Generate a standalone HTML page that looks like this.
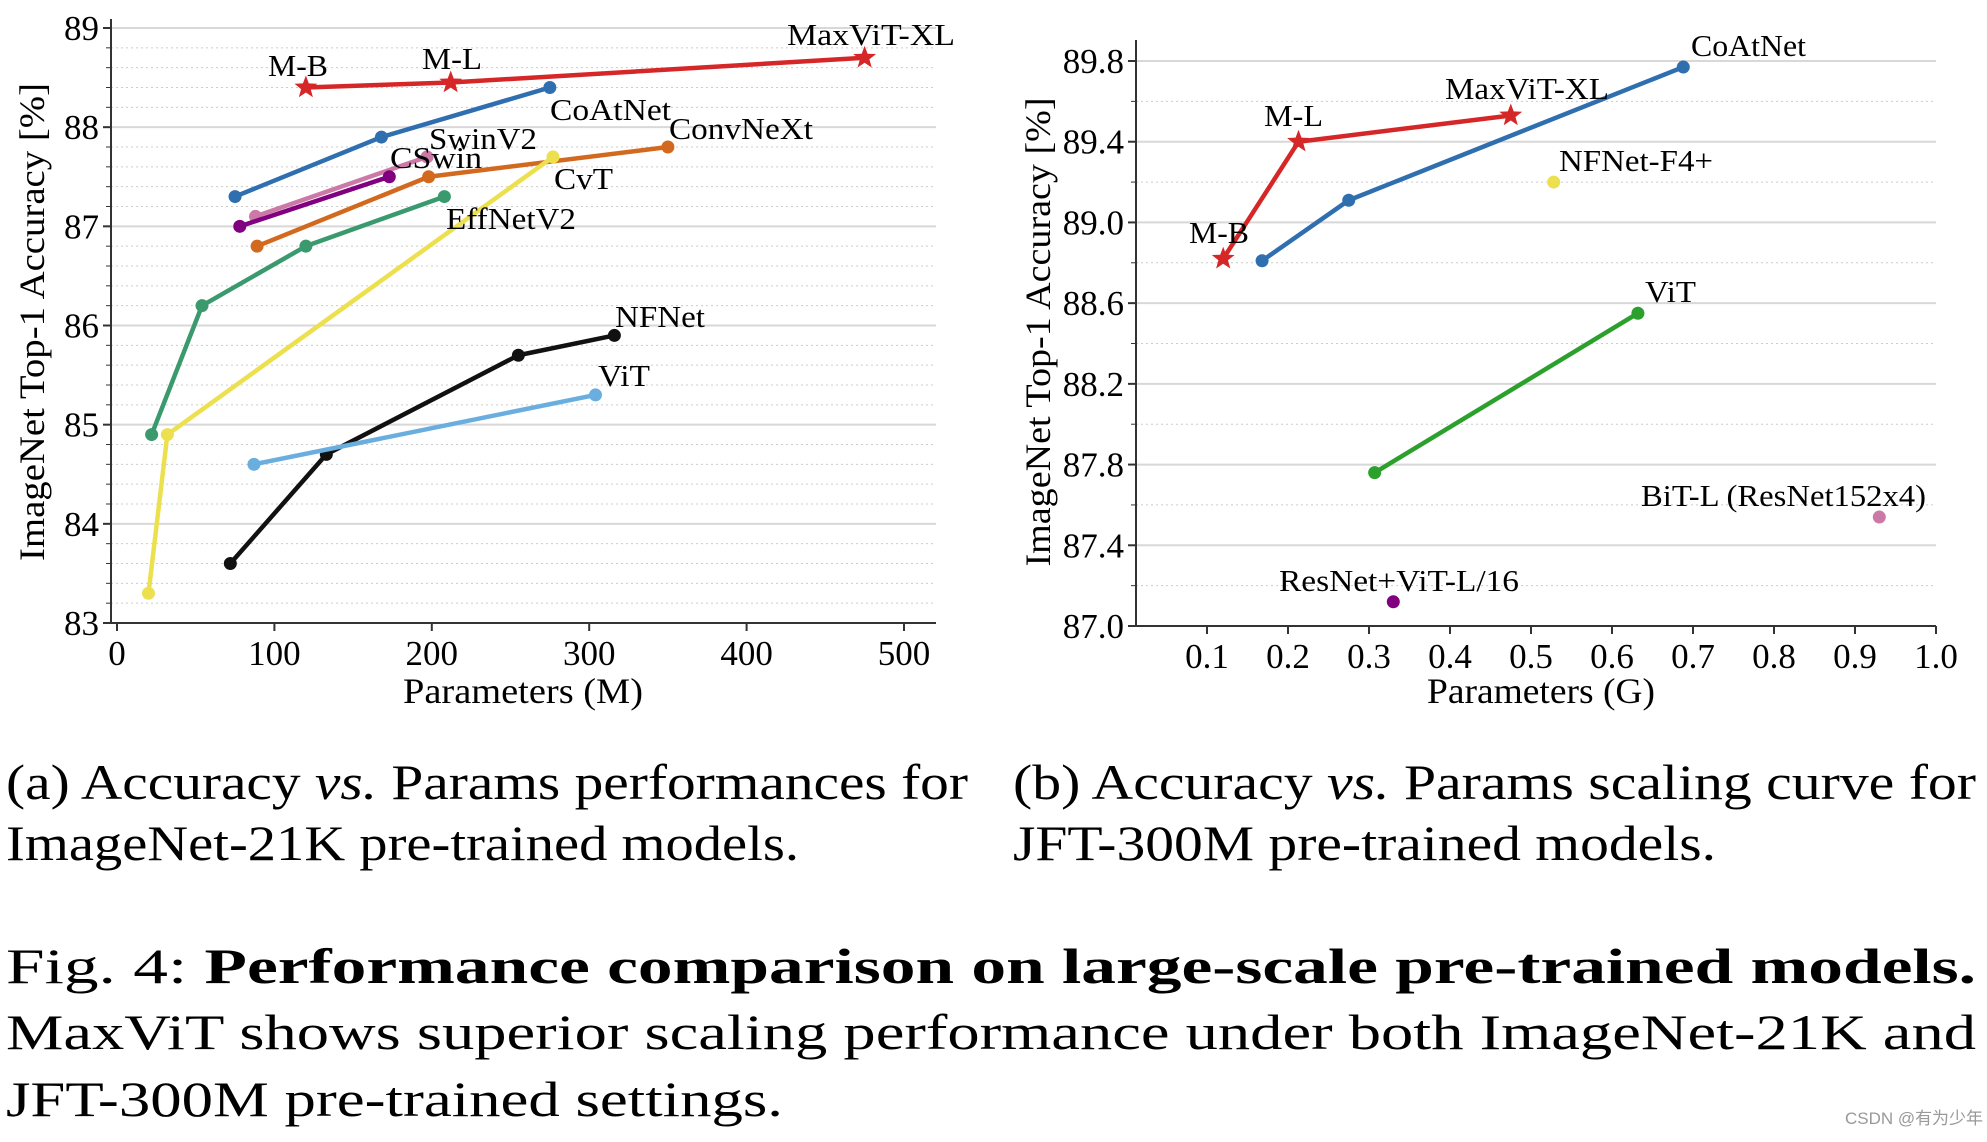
<!DOCTYPE html>
<html><head><meta charset="utf-8"><style>
html,body{margin:0;padding:0;background:#fff;}
svg{display:block;font-family:"Liberation Serif",serif;}
</style></head><body>
<svg id="fig" width="1987" height="1142" viewBox="0 0 1987 1142" xmlns="http://www.w3.org/2000/svg" font-family="Liberation Serif, serif">
<g id="chartA"></g>
<g id="chartB"></g>
<g font-size="50" fill="#000">
<text x="6" y="799" textLength="962" lengthAdjust="spacingAndGlyphs">(a) Accuracy <tspan font-style="italic">vs.</tspan> Params performances for</text>
<text x="6" y="860" textLength="793" lengthAdjust="spacingAndGlyphs">ImageNet-21K pre-trained models.</text>
<text x="1013" y="799" textLength="963" lengthAdjust="spacingAndGlyphs">(b) Accuracy <tspan font-style="italic">vs.</tspan> Params scaling curve for</text>
<text x="1013" y="860" textLength="703" lengthAdjust="spacingAndGlyphs">JFT-300M pre-trained models.</text>
<text x="6" y="983" textLength="1970" lengthAdjust="spacingAndGlyphs">Fig. 4:  <tspan font-weight="bold">Performance  comparison  on  large-scale  pre-trained  models.</tspan></text>
<text x="6" y="1049" textLength="1970" lengthAdjust="spacingAndGlyphs">MaxViT  shows  superior  scaling  performance  under  both  ImageNet-21K  and</text>
<text x="6" y="1116" textLength="777" lengthAdjust="spacingAndGlyphs">JFT-300M pre-trained settings.</text>
</g>
<text x="1845" y="1124" font-size="17" fill="#999" textLength="138" lengthAdjust="spacingAndGlyphs" font-family="Liberation Sans, Noto Sans CJK SC, sans-serif">CSDN @有为少年</text>
</svg>
<script>
// ---- Chart A data (ImageNet-21K) ----
const aXTicks = [0,100,200,300,400,500];
const aYTicks = [83,84,85,86,87,88,89];
const aNames = ["MaxViT","CoAtNet","SwinV2","CSwin","ConvNeXt","EffNetV2","CvT","NFNet","ViT"];
const aColors = ["#d62728","#2f6fb0","#cc79a7","#800080","#d2691e","#3a9a6e","#ede04e","#111111","#6aaee0"];
const aParams = [[120,212,475],[75,168,275],[88,197],[78,173],[89,198,350],[22,54,120,208],[20,32,277],[72,133,255,316],[87,304]];
const aAcc = [[88.4,88.45,88.7],[87.3,87.9,88.4],[87.1,87.7],[87.0,87.5],[86.8,87.5,87.8],[84.9,86.2,86.8,87.3],[83.3,84.9,87.7],[83.6,84.7,85.7,85.9],[84.6,85.3]];
const aLabels = [["M-B",268,76,60],["M-L",422,69,60],["MaxViT-XL",787,45,168],["CoAtNet",550,120,121],["ConvNeXt",669,139,144],["SwinV2",429,149,108],["CSwin",390,168,92],["CvT",554,189,59],["EffNetV2",446,229,130],["NFNet",615,327,90],["ViT",598,386,52]];
// ---- Chart B data (JFT-300M) ----
const bXTicks = [0.1,0.2,0.3,0.4,0.5,0.6,0.7,0.8,0.9,1.0];
const bYTicks = [87.0,87.4,87.8,88.2,88.6,89.0,89.4,89.8];
const bNames = ["MaxViT","CoAtNet","NFNet-F4+","ViT","BiT-L","ResNet+ViT"];
const bColors = ["#d62728","#2f6fb0","#ede04e","#2ca02c","#cc79a7","#800080"];
const bParams = [[0.12,0.213,0.475],[0.168,0.275,0.688],[0.528],[0.307,0.632],[0.93],[0.33]];
const bAcc = [[88.82,89.4,89.53],[88.81,89.11,89.77],[89.2],[87.76,88.55],[87.54],[87.12]];
const bLabels = [["CoAtNet",1691,56,115],["MaxViT-XL",1445,99,164],["M-L",1264,126,59],["NFNet-F4+",1559,171,154],["M-B",1189,243,60],["ViT",1645,302,51],["BiT-L (ResNet152x4)",1641,506,285],["ResNet+ViT-L/16",1279,591,240]];

const NS="http://www.w3.org/2000/svg";
function mk(p,t,a){const e=document.createElementNS(NS,t);for(const k in a)e.setAttribute(k,a[k]);p.appendChild(e);return e;}
function star(cx,cy,r){let s="";for(let i=0;i<10;i++){const rr=i%2?r*0.42:r;const a=-Math.PI/2+i*Math.PI/5;s+=(i?"L":"M")+(cx+rr*Math.cos(a)).toFixed(1)+","+(cy+rr*Math.sin(a)).toFixed(1);}return s+"Z";}

function draw(g,cfg){
  const xs=v=>cfg.x0+(v-cfg.xmin)*(cfg.x1-cfg.x0)/(cfg.xmax-cfg.xmin);
  const ys=v=>cfg.y0+(v-cfg.ymin)*(cfg.y1-cfg.y0)/(cfg.ymax-cfg.ymin);
  for(let v=cfg.ymin;v<=cfg.ymax+1e-9;v+=cfg.minor){
    const y=ys(v);
    const l=mk(g,"line",{x1:cfg.spL,x2:cfg.spR,y1:y,y2:y,stroke:"#ccc","stroke-width":1,"stroke-dasharray":"2,3"});
    
    
    mk(g,"line",{x1:cfg.spL-5,x2:cfg.spL,y1:y,y2:y,stroke:"#333","stroke-width":1});
  }
  cfg.yt.forEach(v=>{
    const y=ys(v);
    const l=mk(g,"line",{x1:cfg.spL,x2:cfg.spR,y1:y,y2:y,stroke:"#d8d8d8","stroke-width":2});
    
    
    mk(g,"line",{x1:cfg.spL-8,x2:cfg.spL,y1:y,y2:y,stroke:"#333","stroke-width":2});
    const t=mk(g,"text",{x:cfg.spL-12,y:y+12,"font-size":35,"text-anchor":"end"});
    t.textContent=v.toFixed(cfg.yd);
    
    
  });
  cfg.xt.forEach(v=>{
    const x=xs(v);
    mk(g,"line",{x1:x,x2:x,y1:cfg.spB,y2:cfg.spB+8,stroke:"#333","stroke-width":2});
    const t=mk(g,"text",{x:x,y:cfg.spB+42,"font-size":35,"text-anchor":"middle"});
    t.textContent=cfg.xd?v.toFixed(cfg.xd):v;
    
    
  });
  const ax=mk(g,"path",{d:`M${cfg.spL},${cfg.spT}V${cfg.spB}H${cfg.spR}`,fill:"none",stroke:"#333","stroke-width":2});
  
  
  cfg.P.forEach((px,i)=>{
    const col=cfg.C[i];
    const sg=mk(g,"g",{});
    
    
    if(px.length>1){
      mk(sg,"polyline",{points:px.map((v,j)=>xs(v)+","+ys(cfg.A[i][j])).join(" "),fill:"none",stroke:col,"stroke-width":4.5,"stroke-linejoin":"round"});
    }
    px.forEach((v,j)=>{
      const cx=xs(v),cy=ys(cfg.A[i][j]);
      let m;
      if(cfg.N[i]==="MaxViT") m=mk(sg,"path",{d:star(cx,cy,12),fill:col});
      else m=mk(sg,"circle",{cx:cx,cy:cy,r:6.5,fill:col});
      
      
    });
  });
  cfg.L.forEach(l=>{
    const t=mk(g,"text",{x:l[1],y:l[2],"font-size":31,textLength:l[3],lengthAdjust:"spacingAndGlyphs"});
    t.textContent=l[0];
    
    
  });
  const xl=mk(g,"text",{x:cfg.xlx-cfg.xlw/2,y:703,"font-size":36,textLength:cfg.xlw,lengthAdjust:"spacingAndGlyphs"});
  xl.textContent=cfg.xlab;
  
  
  const yl=mk(g,"text",{x:-cfg.ylw/2,y:0,"font-size":36,textLength:cfg.ylw,lengthAdjust:"spacingAndGlyphs",transform:`translate(${cfg.ylx},${cfg.yly}) rotate(-90)`});
  yl.textContent="ImageNet Top-1 Accuracy [%]";
  
  
}
draw(document.getElementById("chartA"),{x0:117,x1:904,xmin:0,xmax:500,y0:623,y1:28,ymin:83,ymax:89,minor:0.2,
  spL:111,spR:936,spT:19,spB:623,xt:aXTicks,yt:aYTicks,yd:0,xd:0,P:aParams,A:aAcc,C:aColors,N:aNames,L:aLabels,
  xlab:"Parameters (M)",xlx:523,xlw:240,ylx:44,yly:322,ylw:478});
draw(document.getElementById("chartB"),{x0:1207,x1:1936,xmin:0.1,xmax:1.0,y0:626,y1:61,ymin:87.0,ymax:89.8,minor:0.2,
  spL:1136,spR:1936,spT:40,spB:626,xt:bXTicks,yt:bYTicks,yd:1,xd:1,P:bParams,A:bAcc,C:bColors,N:bNames,L:bLabels,
  xlab:"Parameters (G)",xlx:1541,xlw:228,ylx:1050,yly:332,ylw:469});
</script>
</body></html>
